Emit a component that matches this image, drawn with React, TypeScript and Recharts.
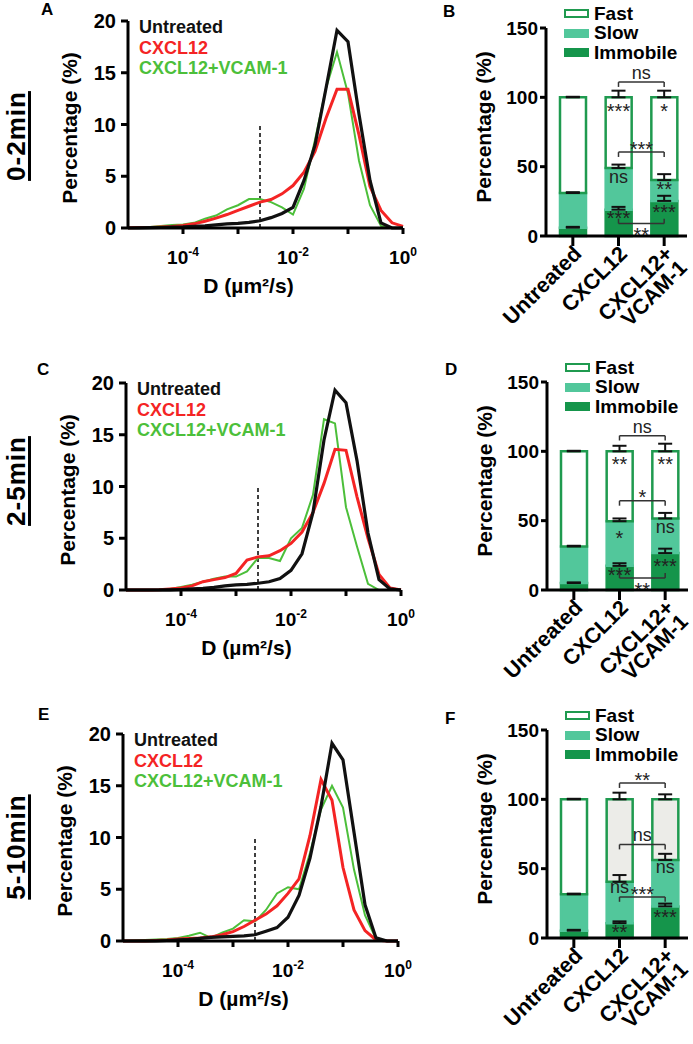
import React from 'react';
import {
  LineChart,
  ComposedChart,
  Line,
  Bar,
  Cell,
  XAxis,
  YAxis,
  ErrorBar,
  ReferenceLine,
  ReferenceDot,
  Legend,
} from 'recharts';

const FONT = '"Liberation Sans", Arial, Helvetica, sans-serif';

// histogram bin centres, log10 of D (µm²/s)
const logD = [-5, -4.8, -4.6, -4.4, -4.2, -4, -3.8, -3.6, -3.4, -3.2, -3, -2.8, -2.6, -2.4, -2.2, -2, -1.8, -1.6, -1.4, -1.2, -1, -0.8, -0.6, -0.4, -0.2, 0];

// 0-2 min
const untreated0to2 = [0, 0.02, 0.04, 0.05, 0.08, 0.1, 0.15, 0.2, 0.3, 0.4, 0.45, 0.55, 0.7, 1.0, 1.4, 2.0, 4.6, 8.0, 13.5, 19.1, 18.0, 11.0, 4.6, 0.5, 0, 0];
const cxcl12_0to2 = [0.02, 0.05, 0.05, 0.1, 0.15, 0.25, 0.4, 0.65, 0.95, 1.3, 1.7, 2.1, 2.5, 2.75, 3.3, 4.1, 5.4, 7.4, 10.6, 13.4, 13.4, 9.0, 4.0, 1.7, 0.5, 0.15];
const vcam0to2 = [0, 0.05, 0.1, 0.2, 0.3, 0.35, 0.5, 0.9, 1.2, 1.8, 2.2, 2.8, 2.8, 2.5, 2.0, 1.3, 3.8, 8.5, 13.5, 17.0, 13.0, 6.5, 2.2, 0.2, 0, 0];

// 2-5 min
const untreated2to5 = [0, 0, 0, 0, 0.02, 0.05, 0.1, 0.15, 0.25, 0.4, 0.5, 0.55, 0.65, 0.8, 1.1, 1.9, 3.5, 7.5, 14.5, 19.3, 18.1, 12.5, 5.5, 1.0, 0.1, 0];
const cxcl12_2to5 = [0, 0, 0, 0.02, 0.1, 0.2, 0.4, 0.8, 1.0, 1.2, 1.6, 2.9, 3.2, 3.3, 3.8, 4.5, 5.6, 7.5, 10.3, 13.6, 13.5, 9.0, 5.0, 1.5, 0.2, 0];
const vcam2to5 = [0, 0, 0, 0.02, 0.1, 0.3, 0.5, 0.8, 1.1, 1.3, 1.3, 1.8, 3.1, 3.1, 2.8, 5.0, 6.0, 9.2, 16.5, 16.1, 8.0, 4.2, 0.6, 0, 0, 0];

// 5-10 min
const untreated5to10 = [0, 0, 0, 0, 0.05, 0.1, 0.15, 0.25, 0.35, 0.4, 0.45, 0.5, 0.6, 0.95, 1.3, 2.3, 4.4, 8.0, 13.0, 19.1, 17.5, 10.5, 3.5, 0.3, 0, 0];
const cxcl12_5to10 = [0, 0, 0, 0.05, 0.1, 0.2, 0.25, 0.3, 0.4, 0.6, 0.9, 1.4, 2.0, 2.6, 3.4, 4.6, 6.0, 10.2, 15.6, 13.6, 7.1, 3.0, 1.0, 0.1, 0, 0];
const vcam5to10 = [0, 0.05, 0.1, 0.15, 0.2, 0.3, 0.5, 0.8, 0.3, 0.8, 1.2, 2.0, 1.9, 3.0, 4.6, 5.2, 5.0, 8.5, 12.7, 15.0, 12.9, 6.9, 2.5, 0.2, 0, 0];

// immobile / mobile threshold (log10 D) and height of the dashed marker
const cutoffLogD = -2.6;
const cutoffTop = 10;

const seriesOrder = ['Untreated', 'CXCL12', 'CXCL12+VCAM-1'];
const phaseOrder = ['Fast', 'Slow', 'Immobile'];

// fractions (%) per condition
const groups = ['Untreated', 'CXCL12', 'CXCL12+VCAM-1'];

const immobile0to2 = [6, 19, 25.3];
const slow0to2 = [25, 30, 15];
const fast0to2 = [69, 51, 59.7];
const immobileErr0to2 = [0.6, 2, 3.7];
const slowErr0to2 = [0.6, 2.5, 4.3];
const fastErr0to2 = [0.4, 4.8, 4.8];

const immobile2to5 = [5, 17.4, 26.6];
const slow2to5 = [26.4, 32.2, 25];
const fast2to5 = [68.6, 50.4, 48.4];
const immobileErr2to5 = [0.5, 1.9, 3.2];
const slowErr2to5 = [0.5, 2, 4];
const fastErr2to5 = [0.4, 4, 5.5];

const immobile5to10 = [5.3, 10.7, 22.8];
const slow5to10 = [26.2, 29.8, 33.5];
const fast5to10 = [68.5, 59.5, 43.7];
const immobileErr5to10 = [0.6, 1.3, 2];
const slowErr5to10 = [0.5, 4.9, 4.4];
const fastErr5to10 = [0.4, 4.8, 3.6];

const stats0to2 = [
  { group: 'CXCL12', y: 93.5, text: '***' },
  { group: 'CXCL12+VCAM-1', y: 93.5, text: '*' },
  { group: 'CXCL12', y: 41.5, text: 'ns' },
  { group: 'CXCL12+VCAM-1', y: 37, text: '**' },
  { group: 'CXCL12', y: 16, text: '***' },
  { group: 'CXCL12+VCAM-1', y: 20.5, text: '***' },
];
const brackets0to2 = [
  { y: 111, text: 'ns', below: false },
  { y: 60.5, text: '***', below: false },
  { y: 9, text: '**', below: true },
];

const stats2to5 = [
  { group: 'CXCL12', y: 94, text: '**' },
  { group: 'CXCL12+VCAM-1', y: 94, text: '**' },
  { group: 'CXCL12', y: 41, text: '*' },
  { group: 'CXCL12+VCAM-1', y: 44.3, text: 'ns' },
  { group: 'CXCL12', y: 14, text: '***' },
  { group: 'CXCL12+VCAM-1', y: 20.8, text: '***' },
];
const brackets2to5 = [
  { y: 111.3, text: 'ns', below: false },
  { y: 64.3, text: '*', below: false },
  { y: 8.7, text: '**', below: true },
];

const stats5to10 = [
  { group: 'CXCL12', y: 35.7, text: 'ns' },
  { group: 'CXCL12+VCAM-1', y: 50.2, text: 'ns' },
  { group: 'CXCL12', y: 7.7, text: '**' },
  { group: 'CXCL12+VCAM-1', y: 18.7, text: '***' },
];
const brackets5to10 = [
  { y: 111.7, text: '**', below: false },
  { y: 67.4, text: 'ns', below: false },
  { y: 29.6, text: '***', below: false },
];

const AXIS = { stroke: '#000', strokeWidth: 3 };
const IMMOBILE = '#15954b';
const SLOW = '#52c79b';
const FAST_EDGE = '#1f9a4f';

function DecadeTick({ x, y, payload }: any) {
  const v = payload?.value;
  if (typeof v !== 'number' || Math.abs(v % 2) === 1) return <g />;
  return (
    <text x={x} y={y + 28} textAnchor="middle" fontFamily={FONT} fontWeight="bold" fontSize={19} fill="#000">
      <tspan>10</tspan>
      <tspan dy={-8} fontSize={12}>{v}</tspan>
    </text>
  );
}

function GroupTick({ x, y, payload }: any) {
  const lines = String(payload?.value ?? '').split(/(?<=\+)/);
  return (
    <g transform={`translate(${x + 10},${y + 7})`}>
      <text textAnchor="end" transform="rotate(-45)" fontFamily={FONT} fontWeight="bold" fontSize={21.5} fill="#000">
        {lines.map((l, i) => (
          <tspan key={i} x={0} dy={i === 0 ? 0 : 20}>
            {l}
          </tspan>
        ))}
      </text>
    </g>
  );
}

function YTitle({ viewBox, text, dx = 0, dy = 0 }: any) {
  if (!viewBox) return null;
  const x = viewBox.x + dx;
  const y = viewBox.y + viewBox.height / 2 + dy;
  return (
    <text x={x} y={y} transform={`rotate(-90 ${x} ${y})`} textAnchor="middle" dominantBaseline="central"
      fontFamily={FONT} fontWeight="bold" fontSize={21} fill="#000">
      {text}
    </text>
  );
}

function XTitle({ viewBox, text, dx = 0, dy = 0 }: any) {
  if (!viewBox) return null;
  return (
    <text x={viewBox.x + viewBox.width / 2 + dx} y={viewBox.y + dy} textAnchor="middle" dominantBaseline="central"
      fontFamily={FONT} fontWeight="bold" fontSize={21} fill="#000">
      {text}
    </text>
  );
}

function StatText({ viewBox, text, shift = 0 }: any) {
  if (!viewBox) return null;
  const cx = viewBox.x + (viewBox.width || 0) / 2;
  const cy = viewBox.y + (viewBox.height || 0) / 2 + shift;
  const star = String(text).includes('*');
  const fs = star ? 20 : 18;
  return (
    <text x={cx} y={cy + fs * (star ? 0.58 : 0.27)} textAnchor="middle" fontFamily={FONT} fontSize={fs} fill="#222">
      {text}
    </text>
  );
}

const renderDistLegend = (props: any) => {
  const items = (props.payload || [])
    .filter((it: any) => seriesOrder.includes(it.value))
    .sort((a: any, b: any) => seriesOrder.indexOf(a.value) - seriesOrder.indexOf(b.value));
  return (
    <div style={{ fontFamily: FONT, fontWeight: 'bold', fontSize: 18, lineHeight: '20.5px', whiteSpace: 'nowrap' }}>
      {items.map((it: any) => (
        <div key={it.value} style={{ color: it.color }}>{it.value}</div>
      ))}
    </div>
  );
};

const renderPhaseLegend = (props: any) => {
  const items = (props.payload || [])
    .filter((it: any) => phaseOrder.includes(it.value))
    .sort((a: any, b: any) => phaseOrder.indexOf(a.value) - phaseOrder.indexOf(b.value));
  return (
    <div style={{ fontFamily: FONT, fontWeight: 'bold', fontSize: 19, whiteSpace: 'nowrap' }}>
      {items.map((it: any) => (
        <div key={it.value} style={{ display: 'flex', alignItems: 'center', height: 19.5 }}>
          <span
            style={{
              display: 'inline-block',
              width: 25,
              height: 9,
              boxSizing: 'border-box',
              background: it.value === 'Fast' ? '#ffffff' : it.color,
              border: `2px solid ${it.value === 'Fast' ? FAST_EDGE : it.color}`,
              marginRight: 5,
            }}
          />
          <span>{it.value}</span>
        </div>
      ))}
    </div>
  );
};

function DistChart({ untreated, cxcl12, vcam }: { untreated: number[]; cxcl12: number[]; vcam: number[] }) {
  const data = logD.map((d, i) => ({ logD: d, untreated: untreated[i], cxcl12: cxcl12[i], vcam: vcam[i] }));
  return (
    <LineChart width={432} height={300} data={data} margin={{ top: 21, right: 29, left: 68, bottom: 32 }} style={{ fontFamily: FONT }}>
      <XAxis
        dataKey="logD"
        type="number"
        domain={[-5, 0]}
        ticks={[-4, -3, -2, -1, 0]}
        interval={0}
        height={40}
        tickSize={6}
        axisLine={AXIS}
        tickLine={AXIS}
        tick={<DecadeTick />}
        label={<XTitle text="D (µm²/s)" dx={-17} dy={57} />}
      />
      <YAxis
        domain={[0, 20]}
        ticks={[0, 5, 10, 15, 20]}
        interval={0}
        width={60}
        tickSize={7}
        tickMargin={5}
        axisLine={AXIS}
        tickLine={AXIS}
        tick={{ fill: '#000', fontSize: 20, fontWeight: 'bold', fontFamily: FONT }}
        label={<YTitle text="Percentage (%)" dx={1} dy={3.5} />}
      />
      <ReferenceLine
        segment={[{ x: cutoffLogD, y: 0 }, { x: cutoffLogD, y: cutoffTop }]}
        stroke="#000"
        strokeWidth={1.5}
        strokeDasharray="4 3"
      />
      <Line type="linear" dataKey="vcam" name="CXCL12+VCAM-1" stroke="#4cbf3a" strokeWidth={2} dot={false} isAnimationActive={false} />
      <Line type="linear" dataKey="cxcl12" name="CXCL12" stroke="#f42424" strokeWidth={3} dot={false} isAnimationActive={false} />
      <Line type="linear" dataKey="untreated" name="Untreated" stroke="#111" strokeWidth={3.2} dot={false} isAnimationActive={false} />
      <Legend
        layout="vertical"
        align="center"
        verticalAlign="middle"
        wrapperStyle={{ left: 139, top: 17, width: 200 }}
        content={renderDistLegend}
      />
    </LineChart>
  );
}

function PhaseChart({ imm, slow, fast, immErr, slowErr, fastErr, stats, brackets, fastFills }: any) {
  const rows = groups.map((g, i) => ({
    group: g,
    immobile: imm[i],
    slow: slow[i],
    fast: fast[i],
    immobileTop: imm[i],
    slowTop: imm[i] + slow[i],
    fastTop: imm[i] + slow[i] + fast[i],
    immobileErr: [0, immErr[i]],
    slowErr: [0, slowErr[i]],
    fastErr: [0, fastErr[i]],
  }));
  const lineBits = { stroke: '#333', strokeWidth: 1.5 };
  return (
    <ComposedChart width={245} height={365} data={rows} margin={{ top: 28, right: 28, left: 16, bottom: 24 }} style={{ fontFamily: FONT }}>
      <XAxis
        dataKey="group"
        type="category"
        padding={{ left: 4, right: 0 }}
        height={105}
        interval={0}
        tickSize={10}
        tickMargin={2}
        axisLine={AXIS}
        tickLine={AXIS}
        tick={<GroupTick />}
      />
      <YAxis
        domain={[0, 150]}
        ticks={[0, 50, 100, 150]}
        interval={0}
        width={60}
        tickSize={6}
        tickMargin={2}
        axisLine={AXIS}
        tickLine={AXIS}
        tick={{ fill: '#000', fontSize: 19, fontWeight: 'bold', fontFamily: FONT }}
        label={<YTitle text="Percentage (%)" dx={-3} dy={-5} />}
      />
      <Bar dataKey="immobile" name="Immobile" stackId="f" barSize={26} fill={IMMOBILE} stroke={IMMOBILE} strokeWidth={2.5} isAnimationActive={false} />
      <Bar dataKey="slow" name="Slow" stackId="f" barSize={26} fill={SLOW} stroke={SLOW} strokeWidth={2.5} isAnimationActive={false} />
      <Bar dataKey="fast" name="Fast" stackId="f" barSize={26} fill="#ffffff" stroke={FAST_EDGE} strokeWidth={2.5} isAnimationActive={false}>
        {rows.map((r, i) => (
          <Cell key={r.group} fill={fastFills[i]} />
        ))}
      </Bar>
      <Line dataKey="immobileTop" stroke="none" dot={false} legendType="none" isAnimationActive={false}>
        <ErrorBar dataKey="immobileErr" direction="y" width={7} stroke="#111" strokeWidth={2} />
      </Line>
      <Line dataKey="slowTop" stroke="none" dot={false} legendType="none" isAnimationActive={false}>
        <ErrorBar dataKey="slowErr" direction="y" width={7} stroke="#111" strokeWidth={2} />
      </Line>
      <Line dataKey="fastTop" stroke="none" dot={false} legendType="none" isAnimationActive={false}>
        <ErrorBar dataKey="fastErr" direction="y" width={7} stroke="#111" strokeWidth={2} />
      </Line>
      {brackets.map((b: any, i: number) => {
        const end = b.below ? b.y + 3.5 : b.y - 3.5;
        return (
          <React.Fragment key={`b${i}`}>
            <ReferenceLine
              segment={[{ x: groups[1], y: b.y }, { x: groups[2], y: b.y }]}
              {...lineBits}
              label={<StatText text={b.text} shift={b.below ? 7 : -8} />}
            />
            <ReferenceLine segment={[{ x: groups[1], y: b.y }, { x: groups[1], y: end }]} {...lineBits} />
            <ReferenceLine segment={[{ x: groups[2], y: b.y }, { x: groups[2], y: end }]} {...lineBits} />
          </React.Fragment>
        );
      })}
      {stats.map((s: any, i: number) => (
        <ReferenceDot key={`s${i}`} x={s.group} y={s.y} r={0} fill="none" stroke="none" label={<StatText text={s.text} />} />
      ))}
      <Legend
        layout="vertical"
        align="center"
        verticalAlign="middle"
        wrapperStyle={{ left: 94, top: 4, width: 125 }}
        content={renderPhaseLegend}
      />
    </ComposedChart>
  );
}

const distPanels = [
  { letter: 'A', time: '0-2min', ox: 0, oy: 0, lx: 41, ly: 1, ty: 136, untreated: untreated0to2, cxcl12: cxcl12_0to2, vcam: vcam0to2 },
  { letter: 'C', time: '2-5min', ox: -2, oy: 362, lx: 37, ly: 361, ty: 481, untreated: untreated2to5, cxcl12: cxcl12_2to5, vcam: vcam2to5 },
  { letter: 'E', time: '5-10min', ox: -5, oy: 713, lx: 38, ly: 706, ty: 847, untreated: untreated5to10, cxcl12: cxcl12_5to10, vcam: vcam5to10 },
];

const phasePanels = [
  {
    letter: 'B', ox: 470, oy: 0, lx: 443, ly: 3,
    imm: immobile0to2, slow: slow0to2, fast: fast0to2,
    immErr: immobileErr0to2, slowErr: slowErr0to2, fastErr: fastErr0to2,
    stats: stats0to2, brackets: brackets0to2, fastFills: ['#ffffff', '#ffffff', '#ffffff'],
  },
  {
    letter: 'D', ox: 471, oy: 354, lx: 445, ly: 361,
    imm: immobile2to5, slow: slow2to5, fast: fast2to5,
    immErr: immobileErr2to5, slowErr: slowErr2to5, fastErr: fastErr2to5,
    stats: stats2to5, brackets: brackets2to5, fastFills: ['#ffffff', '#ffffff', '#ffffff'],
  },
  {
    letter: 'F', ox: 471, oy: 702, lx: 445, ly: 710,
    imm: immobile5to10, slow: slow5to10, fast: fast5to10,
    immErr: immobileErr5to10, slowErr: slowErr5to10, fastErr: fastErr5to10,
    stats: stats5to10, brackets: brackets5to10, fastFills: ['#ffffff', '#ececE8', '#ececE8'],
  },
];

const letterStyle: React.CSSProperties = {
  position: 'absolute',
  fontFamily: FONT,
  fontWeight: 'bold',
  fontSize: 17,
  lineHeight: '17px',
  color: '#000',
};

export default function App() {
  return (
    <div style={{ position: 'absolute', left: 0, top: 0, width: 693, height: 1044, background: '#fff', fontFamily: FONT, overflow: 'hidden' }}>
      {distPanels.map((p) => (
        <React.Fragment key={p.letter}>
          <div style={{ position: 'absolute', left: p.ox, top: p.oy }}>
            <DistChart untreated={p.untreated} cxcl12={p.cxcl12} vcam={p.vcam} />
          </div>
          <div style={{ ...letterStyle, left: p.lx, top: p.ly }}>{p.letter}</div>
          <div
            style={{
              position: 'absolute',
              left: 16,
              top: p.ty,
              transform: 'translate(-50%, -50%) rotate(-90deg)',
              fontFamily: FONT,
              fontWeight: 'bold',
              fontSize: 26,
              letterSpacing: 1,
              lineHeight: 1,
              whiteSpace: 'nowrap',
              textDecoration: 'underline',
              textDecorationThickness: '2.5px',
              textUnderlineOffset: '3px',
            }}
          >
            {p.time}
          </div>
        </React.Fragment>
      ))}
      {phasePanels.map((p) => (
        <React.Fragment key={p.letter}>
          <div style={{ position: 'absolute', left: p.ox, top: p.oy }}>
            <PhaseChart {...p} />
          </div>
          <div style={{ ...letterStyle, left: p.lx, top: p.ly }}>{p.letter}</div>
        </React.Fragment>
      ))}
    </div>
  );
}
